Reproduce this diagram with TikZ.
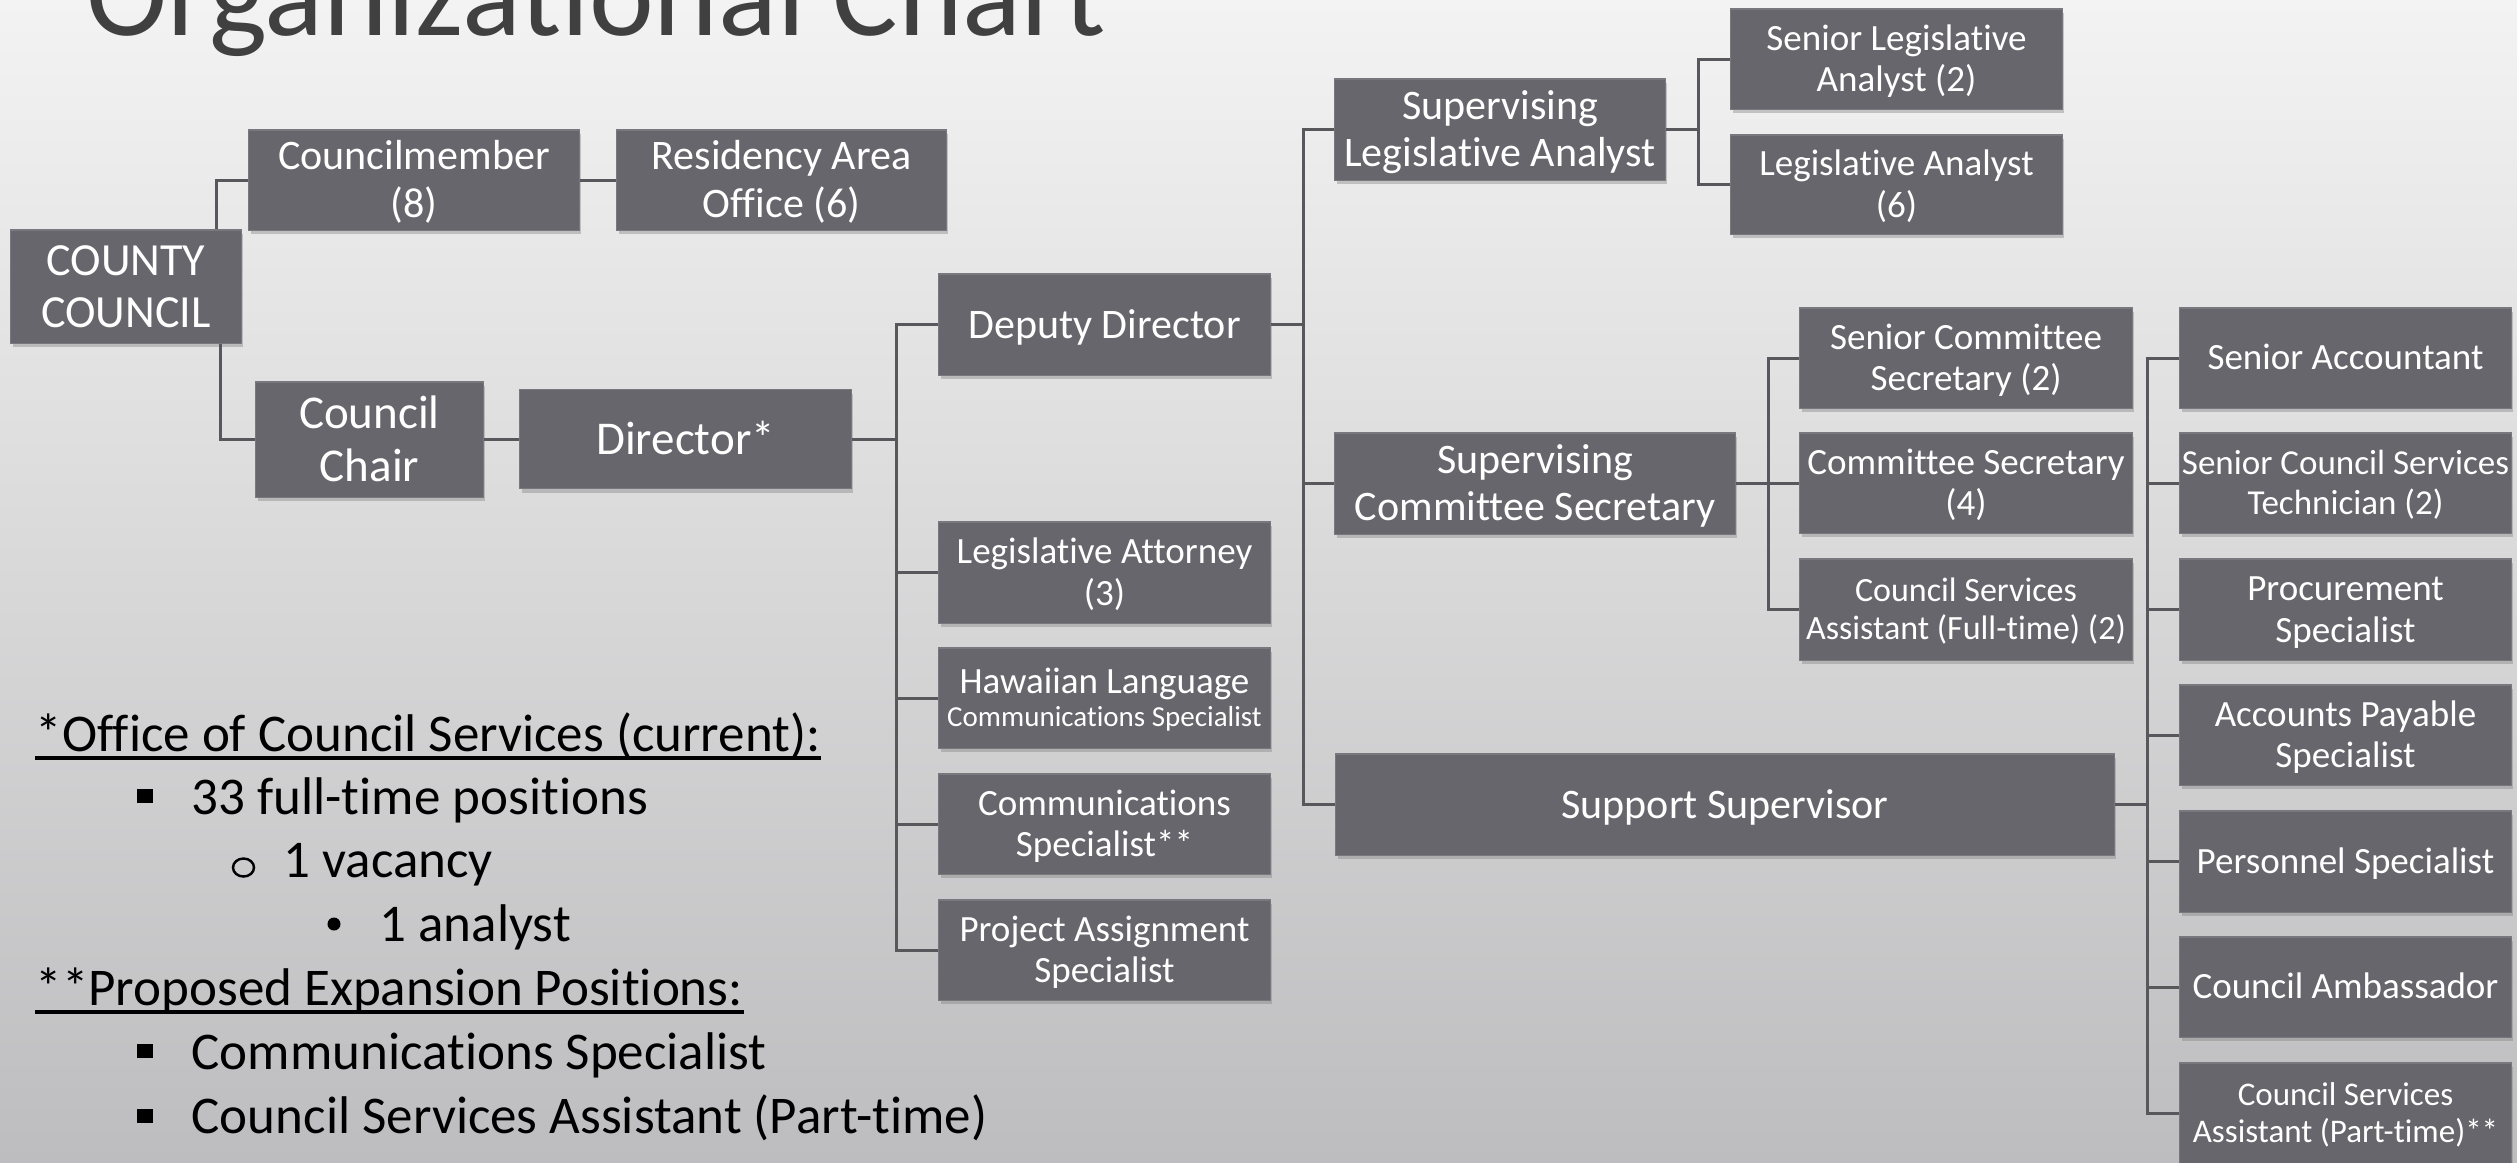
\documentclass[tikz,border=0pt]{standalone}
\usepackage{fontspec}
\setmainfont{Carlito}[Ligatures={TeX,NoCommon}]
\usetikzlibrary{shadows}
\definecolor{boxc}{RGB}{103,102,108}
\definecolor{linec}{RGB}{88,87,92}
\definecolor{titlec}{RGB}{64,64,64}
\definecolor{bgtop}{RGB}{243,243,243}
\definecolor{bgmid}{RGB}{216,216,218}
\definecolor{bgbot}{RGB}{189,189,191}
\newcommand\fS{\fontsize{8.25pt}{9.3pt}\selectfont}
\newcommand\fQ{\fontsize{9.39pt}{10.6pt}\selectfont}
\newcommand\fR{\fontsize{9.67pt}{10.9pt}\selectfont}
\newcommand\fK{\fontsize{9.96pt}{11.25pt}\selectfont}
\newcommand\fM{\fontsize{10.53pt}{11.9pt}\selectfont}
\newcommand\fB{\fontsize{11.95pt}{13.5pt}\selectfont}
\newcommand\fC{\fontsize{13.09pt}{14.8pt}\selectfont}
\newcommand\fD{\fontsize{13.37pt}{15.1pt}\selectfont}
\newcommand\fN{\fontsize{15.08pt}{18.2pt}\selectfont}
\newcommand\fT{\fontsize{34.9pt}{40pt}\selectfont}
\tikzset{
  bx/.style={rectangle, fill=boxc, draw=boxc!88!white, line width=0.3pt,
    text=white, align=center, inner sep=0pt,
    execute at begin node={\vrule width 0pt height 0.9em depth 0pt\relax},
    execute at end node={\vrule width 0pt height 0pt depth 0.256em\relax},
    drop shadow={shadow xshift=0.5pt, shadow yshift=-1.2pt, opacity=0.4}},
  two/.style={execute at begin node={\vrule width 0pt height \dimexpr\baselineskip+0.9em\relax depth 0pt\relax}},
  conn/.style={draw=linec, line width=0.85pt},
  bus/.style={draw=linec, line width=0.85pt, line cap=rect},
  note/.style={anchor=base west, inner sep=0pt, text=black, font=\fN},
}
\begin{document}
\begin{tikzpicture}[x=0.01cm, y=-0.01cm]
\useasboundingbox (0,0) rectangle (2517,1162);
\clip (0,0) rectangle (2517,1162);
\shade[top color=bgtop, middle color=bgmid, bottom color=bgbot] (0,0) rectangle (2517,1162);

% title
\node[anchor=base west, inner sep=0pt, text=titlec, font=\fT] (title) at (86,35) {Organizational Chart};

% left part
\node[bx, two, minimum width=2.30cm, minimum height=1.13cm, font=\fC] (cc) at (126,286.5) {COUNTY\\COUNCIL};
\node[bx, two, minimum width=3.30cm, minimum height=1.00cm, font=\fB] (cm) at (414,180) {Councilmember\\(8)};
\node[bx, two, minimum width=3.29cm, minimum height=1.00cm, font=\fB] (rao) at (781.5,180) {Residency Area\\Office (6)};
\node[bx, two, minimum width=2.27cm, minimum height=1.15cm, font=\fD] (chair) at (369.5,439.5) {Council\\Chair};
\node[bx, minimum width=3.31cm, minimum height=0.99cm, font=\fD] (dir) at (685.5,439) {Director*};

% director's children
\node[bx, minimum width=3.31cm, minimum height=1.01cm, font=\fB] (dd) at (1104.5,324.5) {Deputy Director};
\node[bx, two, minimum width=3.31cm, minimum height=1.01cm, font=\fM] (la) at (1104.5,572.5) {Legislative Attorney\\(3)};
\node[bx, minimum width=3.31cm, minimum height=1.00cm, font=\fM,
  execute at begin node={\vrule width 0pt height 18.8pt depth 0pt\relax}] (hl) at (1104.5,698) {Hawaiian Language\\[-2.6pt]\fS Communications Specialist};
\node[bx, two, minimum width=3.31cm, minimum height=1.00cm, font=\fM] (cs) at (1104.5,824) {Communications\\Specialist**};
\node[bx, two, minimum width=3.31cm, minimum height=1.00cm, font=\fM] (pa) at (1104.5,950) {Project Assignment\\Specialist};

% deputy director's children
\node[bx, two, minimum width=3.30cm, minimum height=1.01cm, font=\fB] (sla) at (1500,129.5) {Supervising\\Legislative Analyst};
\node[bx, two, minimum width=4.00cm, minimum height=1.01cm, font=\fB] (scs) at (1535,483.5) {Supervising\\Committee Secretary};
\node[bx, minimum width=7.78cm, minimum height=1.01cm, font=\fB] (ss) at (1725,804.5) {Support Supervisor};

% SLA children
\node[bx, two, minimum width=3.31cm, minimum height=1.00cm, font=\fM] (slaa) at (1896.5,59) {Senior Legislative\\Analyst (2)};
\node[bx, two, minimum width=3.31cm, minimum height=0.99cm, font=\fM] (lan) at (1896.5,184.5) {Legislative Analyst\\(6)};

% SCS children
\node[bx, two, minimum width=3.32cm, minimum height=1.00cm, font=\fM] (scsec) at (1966,358) {Senior Committee\\Secretary (2)};
\node[bx, two, minimum width=3.32cm, minimum height=1.00cm, font=\fM] (csec) at (1966,483) {Committee Secretary\\(4)};
\node[bx, two, minimum width=3.32cm, minimum height=1.01cm, font=\fR] (csaf) at (1966,609.5) {Council Services\\Assistant (Full-time) (2)};

% SS children
\node[bx, minimum width=3.31cm, minimum height=1.00cm, font=\fM] (sa) at (2345.5,358) {Senior Accountant};
\node[bx, two, minimum width=3.31cm, minimum height=1.00cm, font=\fK] (scst) at (2345.5,483) {Senior Council Services\\Technician (2)};
\node[bx, two, minimum width=3.31cm, minimum height=1.01cm, font=\fM] (ps) at (2345.5,609.5) {Procurement\\Specialist};
\node[bx, two, minimum width=3.31cm, minimum height=1.00cm, font=\fM] (aps) at (2345.5,735) {Accounts Payable\\Specialist};
\node[bx, minimum width=3.31cm, minimum height=1.01cm, font=\fM] (pers) at (2345.5,861.5) {Personnel Specialist};
\node[bx, minimum width=3.31cm, minimum height=1.00cm, font=\fM] (amb) at (2345.5,987) {Council Ambassador};
\node[bx, two, minimum width=3.31cm, minimum height=1.00cm, font=\fQ] (csap) at (2345.5,1113) {Council Services\\Assistant (Part-time)**};

% connectors
\draw[conn] ([xshift=0.90cm]cc.north) |- (cm.west);
\draw[conn] ([xshift=0.94cm]cc.south) |- (chair.west);
\draw[conn] (cm.east) -- (rao.west);
\draw[conn] (chair.east) -- (chair.east -| dir.west);

\coordinate (db) at (896,0);
\draw[conn] (dir.east) -- (dir.east -| db);
\draw[bus] (db |- dd.west) -- (db |- pa.west);
\foreach \n in {dd,la,hl,cs,pa} \draw[conn] (db |- \n.west) -- (\n.west);

\coordinate (ddb) at (1303,0);
\draw[conn] (dd.east) -- (dd.east -| ddb);
\draw[bus] (ddb |- sla.west) -- (ddb |- ss.west);
\foreach \n in {sla,scs,ss} \draw[conn] (ddb |- \n.west) -- (\n.west);

\coordinate (slb) at (1698,0);
\draw[conn] (sla.east) -- (sla.east -| slb);
\draw[bus] (slb |- slaa.west) -- (slb |- lan.west);
\foreach \n in {slaa,lan} \draw[conn] (slb |- \n.west) -- (\n.west);

\coordinate (scb) at (1768,0);
\draw[conn] (scs.east) -- (scs.east -| scb);
\draw[bus] (scb |- scsec.west) -- (scb |- csaf.west);
\foreach \n in {scsec,csec,csaf} \draw[conn] (scb |- \n.west) -- (\n.west);

\coordinate (ssb) at (2147,0);
\draw[conn] (ss.east) -- (ss.east -| ssb);
\draw[bus] (ssb |- sa.west) -- (ssb |- csap.west);
\foreach \n in {sa,scst,ps,aps,pers,amb,csap} \draw[conn] (ssb |- \n.west) -- (\n.west);

% notes
\node[note] (n1) at (35,751) {*Office of Council Services (current):};
\draw[line width=1pt] ([yshift=-2pt]n1.base west) -- ([yshift=-2pt]n1.base east);
\node[note] (n2) at (191,814) {33 full-time positions};
\node[note] (n3) at (283,877) {1 vacancy};
\node[note] (n4) at (379,941) {1 analyst};
\node[note] (n5) at (35,1005) {**Proposed Expansion Positions:};
\draw[line width=1pt] ([yshift=-2pt]n5.base west) -- ([yshift=-2pt]n5.base east);
\node[note] (n6) at (191,1069) {Communications Specialist};
\node[note] (n7) at (191,1133) {Council Services Assistant (Part-time)};

\fill (137,789) rectangle (153,803);
\fill (137,1044) rectangle (153,1058);
\fill (137,1109) rectangle (153,1123);
\draw[line width=0.7pt] (243.5,867.5) ellipse [x radius=0.105cm, y radius=0.09cm];
\fill (334,924) circle [radius=0.065cm];
\end{tikzpicture}
\end{document}
